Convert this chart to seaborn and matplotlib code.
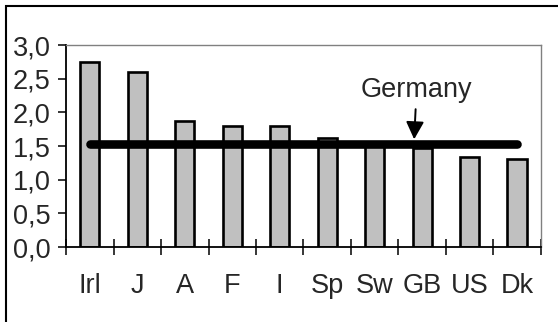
import numpy as np
import pandas as pd
import seaborn as sns
import matplotlib.pyplot as plt
from matplotlib.patches import Rectangle
from matplotlib.ticker import FuncFormatter

countries = ["Irl", "J", "A", "F", "I", "Sp", "Sw", "GB", "US", "Dk"]
values = [2.75, 2.60, 1.87, 1.79, 1.79, 1.62, 1.55, 1.47, 1.34, 1.31]
germany = 1.53

sns.set_theme(style="white")
plt.rcParams["font.family"] = ["Liberation Sans", "DejaVu Sans"]

df = pd.DataFrame({"country": countries, "value": values})

fig = plt.figure(figsize=(5.58, 3.22), dpi=100)
ax = fig.add_axes([0.1183, 0.2329, 0.9695 - 0.1183, 0.8602 - 0.2329])

sns.barplot(data=df, x="country", y="value", color="#c0c0c0", saturation=1,
            width=0.41, edgecolor="black", linewidth=1.9, ax=ax)

# germany level line across all countries
sns.lineplot(x=countries, y=[germany] * len(countries), color="black",
             linewidth=6.2, solid_capstyle="round", sort=False, ax=ax)

ax.annotate("Germany", xy=(6.83, 1.60), xytext=(6.88, 2.33),
            ha="center", va="center", fontsize=19.5,
            arrowprops=dict(arrowstyle="-|>,head_length=0.55,head_width=0.28",
                            color="black", lw=1.4, shrinkA=2, shrinkB=0))

ax.set_xlim(-0.5, len(countries) - 0.5)
ax.set_ylim(0, 3.0)
ax.set_yticks(np.arange(0, 3.01, 0.5))
ax.yaxis.set_major_formatter(FuncFormatter(lambda v, p: f"{v:.1f}".replace(".", ",")))
ax.set_xlabel("")
ax.set_ylabel("")

ax.set_xticks(np.arange(-0.5, len(countries), 1.0), minor=True)
ax.tick_params(axis="x", which="major", length=0, pad=19, labelsize=19.5)
ax.tick_params(axis="x", which="minor", direction="inout", length=12,
               width=1.1, color="black", bottom=True)
ax.tick_params(axis="y", which="major", direction="out", length=6, width=1.1,
               color="black", left=True, pad=5, labelsize=19.5)

for side in ["left", "bottom"]:
    ax.spines[side].set_color("black")
    ax.spines[side].set_linewidth(1.3)
for side in ["top", "right"]:
    ax.spines[side].set_color("#808080")
    ax.spines[side].set_linewidth(1.0)

# outer chart frame
fig.patches.append(Rectangle((6 / 558, -0.1), 1.2, 1 - 6 / 322 + 0.1,
                             transform=fig.transFigure, fill=False,
                             edgecolor="black", linewidth=1.5))

fig.savefig("out.png", dpi=100)
